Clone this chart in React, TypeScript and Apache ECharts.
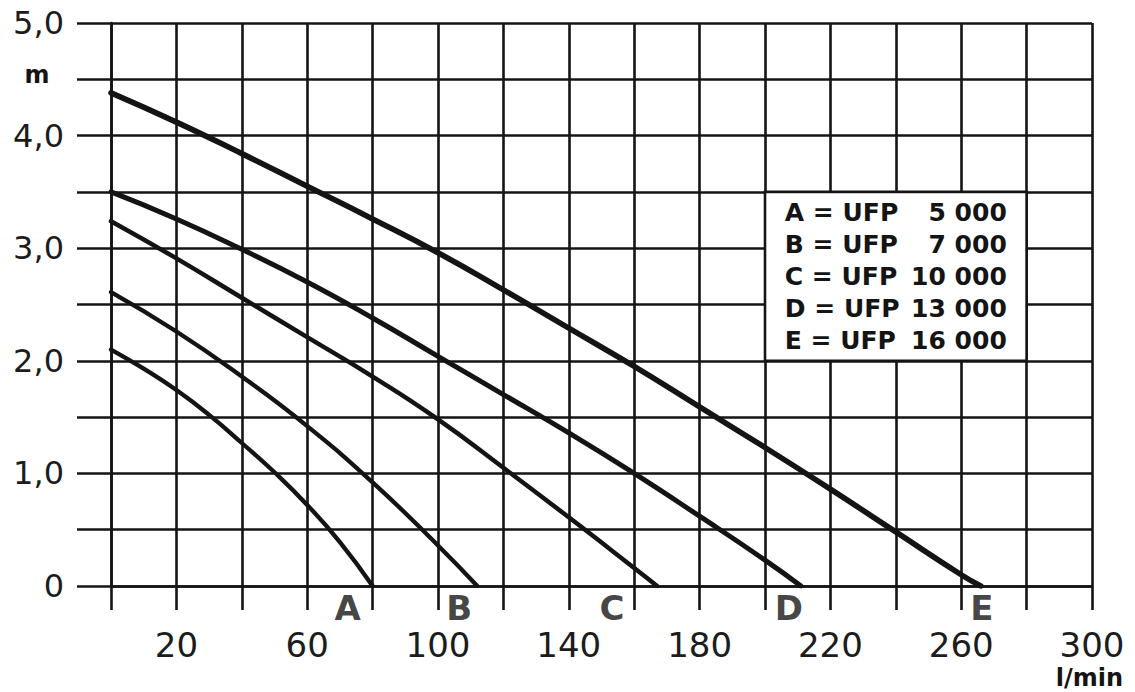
import { useEffect, useRef } from 'react';
import * as echarts from 'echarts';

// ---- axes ----
const X_MIN = 0;
const X_MAX = 300;
const X_STEP = 20;
const Y_MIN = 0;
const Y_MAX = 5;
const Y_STEP = 0.5;
const xLabelValues = [20, 60, 100, 140, 180, 220, 260, 300];
const yLabelValues = [0, 1, 2, 3, 4, 5];
const xUnit = 'l/min';
const yUnit = 'm';

// ---- curves: [flow l/min, head m] ----
const curveLetters = ['A', 'B', 'C', 'D', 'E'];
const modelPrefix = 'UFP';
const modelNumbers = ['5 000', '7 000', '10 000', '13 000', '16 000'];

const curveA: [number, number][] = [
  [0, 2.1], [10, 1.93], [20, 1.74], [30, 1.52], [40, 1.27], [50, 1.01], [60, 0.72], [70, 0.39], [80, 0],
];
const curveB: [number, number][] = [
  [0, 2.61], [20, 2.26], [40, 1.86], [60, 1.42], [80, 0.92], [100, 0.36], [112, 0],
];
const curveC: [number, number][] = [
  [0, 3.24], [20, 2.91], [40, 2.56], [60, 2.21], [80, 1.86], [100, 1.48], [120, 1.05], [140, 0.61], [160, 0.16], [167, 0],
];
const curveD: [number, number][] = [
  [0, 3.5], [20, 3.26], [40, 2.99], [60, 2.7], [80, 2.38], [100, 2.04], [120, 1.7], [140, 1.36], [160, 1.0], [180, 0.62], [200, 0.23], [211, 0],
];
const curveE: [number, number][] = [
  [0, 4.38], [20, 4.12], [40, 3.84], [60, 3.55], [80, 3.26], [100, 2.96], [120, 2.63], [140, 2.29], [160, 1.95], [180, 1.59], [200, 1.23], [220, 0.86], [240, 0.48], [260, 0.1], [266, 0],
];
const curves = [curveA, curveB, curveC, curveD, curveE];

// ---- styling ----
const INK = '#141414';
const FONT = 'DejaVu Sans';
const lineWidths = [4.3, 4.3, 4.5, 5, 5.6];
const letterOffsetX = [-25, -18, -45, -12, 1];

export default function App() {
  const ref = useRef<HTMLDivElement>(null);

  useEffect(() => {
    if (!ref.current) return;
    const chart = echarts.init(ref.current, undefined, { renderer: 'svg' });

    const legendLines = curveLetters
      .map((l, i) => `{a|${l} = ${modelPrefix}}{b|${modelNumbers[i]}}`)
      .join('\n');

    const lineSeries: any[] = curves.map((c, i) => ({
      type: 'line',
      name: curveLetters[i],
      data: c,
      smooth: 0.5,
      showSymbol: false,
      silent: true,
      z: 3,
      lineStyle: { color: INK, width: lineWidths[i], cap: 'round', join: 'round' },
      ...(i === 0
        ? {
            markArea: {
              silent: true,
              itemStyle: { color: '#ffffff', borderColor: INK, borderWidth: 2.6, opacity: 1 },
              label: {
                show: true,
                position: 'inside',
                formatter: legendLines,
                rich: {
                  a: { width: 126, align: 'left', fontFamily: FONT, fontWeight: 'bold', fontSize: 25, lineHeight: 32, color: INK },
                  b: { width: 96, align: 'right', fontFamily: FONT, fontWeight: 'bold', fontSize: 25, lineHeight: 32, color: INK },
                },
              },
              data: [[{ xAxis: 200, yAxis: 3.5 }, { xAxis: 280, yAxis: 2.0 }]],
            },
          }
        : {}),
    }));

    const letterSeries = {
      type: 'scatter',
      silent: true,
      clip: false,
      symbolSize: 1,
      itemStyle: { color: 'rgba(0,0,0,0)' },
      z: 4,
      data: curves.map((c, i) => ({
        value: c[c.length - 1],
        label: {
          show: true,
          position: 'inside',
          offset: [letterOffsetX[i], 22],
          formatter: curveLetters[i],
          fontFamily: FONT,
          fontWeight: 'bold',
          fontSize: 34,
          color: INK,
        },
      })),
    };

    chart.setOption({
      animation: false,
      backgroundColor: '#ffffff',
      grid: { left: 111, top: 23, right: 43, bottom: 106, containLabel: false, outerBoundsMode: 'none' },
      xAxis: {
        type: 'value',
        min: X_MIN,
        max: X_MAX,
        interval: X_STEP,
        axisLine: { show: true, onZero: false, lineStyle: { color: INK, width: 2.6 } },
        axisTick: { show: true, length: 24, lineStyle: { color: INK, width: 2.6 } },
        splitLine: { show: true, lineStyle: { color: INK, width: 2.6 } },
        axisLabel: {
          margin: 42,
          showMinLabel: true,
          showMaxLabel: true,
          fontFamily: FONT,
          fontSize: 34,
          color: '#1c1c1c',
          formatter: (v: number) => (xLabelValues.includes(v) ? String(v) : ''),
        },
      },
      yAxis: {
        type: 'value',
        min: Y_MIN,
        max: Y_MAX,
        interval: Y_STEP,
        axisLine: { show: true, onZero: false, lineStyle: { color: INK, width: 2.6 } },
        axisTick: { show: true, length: 34, lineStyle: { color: INK, width: 2.6 } },
        splitLine: { show: true, lineStyle: { color: INK, width: 2.6 } },
        axisLabel: {
          margin: 47,
          showMinLabel: true,
          showMaxLabel: true,
          fontFamily: FONT,
          fontSize: 32,
          color: '#1c1c1c',
          formatter: (v: number) =>
            yLabelValues.includes(v) ? (v === 0 ? '0' : v.toFixed(1).replace('.', ',')) : '',
        },
      },
      graphic: [
        {
          type: 'text',
          x: 37,
          y: 75,
          silent: true,
          style: {
            text: yUnit,
            fill: INK,
            font: `bold 24px "${FONT}"`,
            align: 'center',
            verticalAlign: 'middle',
          },
        },
        {
          type: 'text',
          x: 1123,
          y: 678,
          silent: true,
          style: {
            text: xUnit,
            fill: INK,
            font: `bold 24px "${FONT}"`,
            align: 'right',
            verticalAlign: 'middle',
          },
        },
      ],
      series: [...lineSeries, letterSeries],
    });

    return () => chart.dispose();
  }, []);

  return (
    <div
      ref={ref}
      style={{ position: 'fixed', left: 0, top: 0, width: 1135, height: 692, background: '#fff' }}
    />
  );
}
